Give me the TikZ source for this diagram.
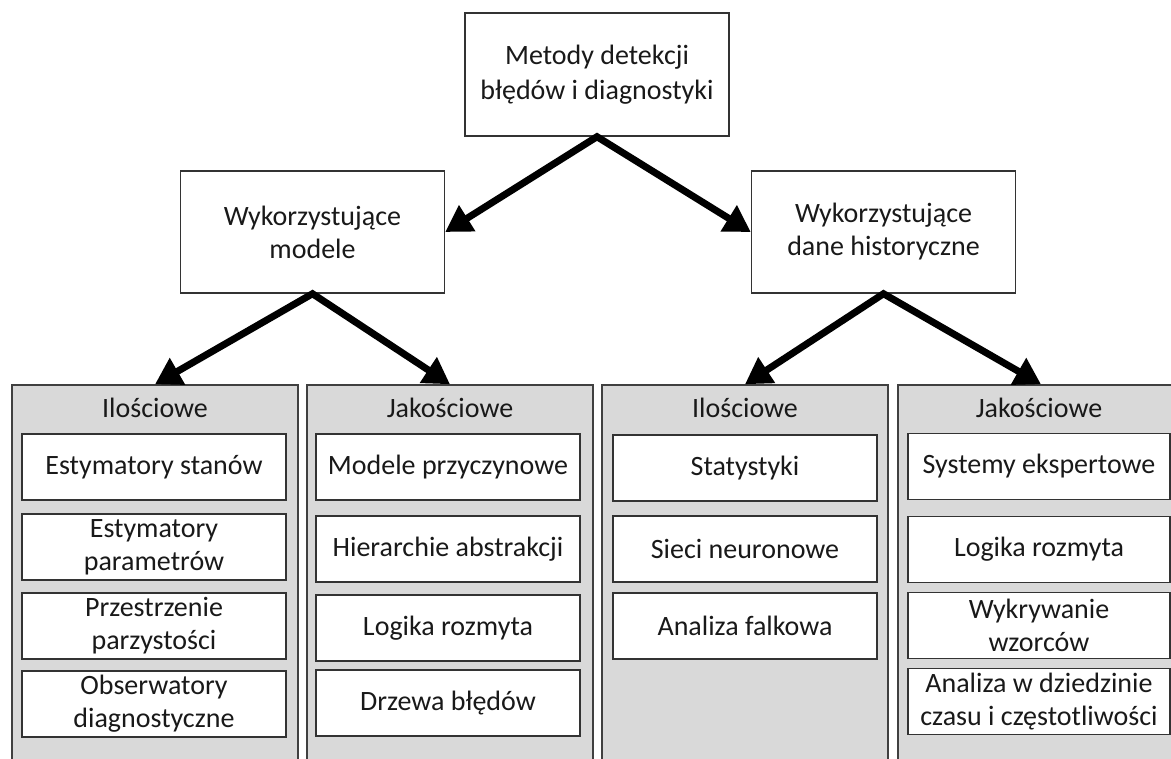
\documentclass[tikz,border=0pt]{standalone}
\usepackage{fontspec}
\setmainfont{Carlito}
\usetikzlibrary{arrows.meta}
\newdimen\px \px=0.75pt
\tikzset{
  txt/.style={font=\fontsize{21}{24.75}\selectfont, align=center, text=black!90},
  box/.style={txt, draw=black!80, line width=1.1pt, fill=white, inner sep=0pt},
  topbox/.style={box, minimum width=264\px, minimum height=123\px},
  item/.style={box, minimum width=264\px, minimum height=66\px},
  panel/.style={draw=black!75, line width=1.1pt, fill=black!15, minimum width=286\px, minimum height=400\px, inner sep=0pt},
  title/.style={txt, inner sep=0pt},
  bigarrow/.style={line width=5.25pt, -{Triangle[length=19.5pt, width=22pt]}, shorten <=-1.5pt}
}
\begin{document}
\begin{tikzpicture}[x=0.75pt, y=-0.75pt]
  \useasboundingbox (0,0) rectangle (1171,758);
  \clip (0,0) rectangle (1171,758);
  \fill[white] (0,0) rectangle (1171,758);

  % upper levels
  \node[topbox, font=\fontsize{21}{26.25}\selectfont] (root) at (597,74.5) {Metody detekcji\\błędów i diagnostyki};
  \node[topbox, minimum height=122\px] (model) at (312.5,232) {Wykorzystujące\\modele};
  \node[topbox, minimum height=122\px] (hist) at (883.5,232) {Wykorzystujące\\dane historyczne};

  % grey category panels
  \node[panel] (p1) at (155,585) {};
  \node[panel] (p2) at (450,585) {};
  \node[panel] (p3) at (745,585) {};
  \node[panel] (p4) at (1041,585) {};

  \node[title] (t1) at (155,408) {Ilościowe};
  \node[title] (t2) at (450,408) {Jakościowe};
  \node[title] (t3) at (745,408) {Ilościowe};
  \node[title] (t4) at (1039,408) {Jakościowe};

  % model-based, quantitative
  \node[item] (a1) at (154,467) {Estymatory stanów};
  \node[item] (a2) at (154,547) {Estymatory\\parametrów};
  \node[item] (a3) at (154,626) {Przestrzenie\\parzystości};
  \node[item] (a4) at (154,704) {Obserwatory\\diagnostyczne};

  % model-based, qualitative
  \node[item] (b1) at (448,467) {Modele przyczynowe};
  \node[item] (b2) at (448,549) {Hierarchie abstrakcji};
  \node[item] (b3) at (448,628) {Logika rozmyta};
  \node[item] (b4) at (448,703) {Drzewa błędów};

  % data-driven, quantitative
  \node[item] (c1) at (745,468) {Statystyki};
  \node[item] (c2) at (745,549) {Sieci neuronowe};
  \node[item] (c3) at (745,626) {Analiza falkowa};

  % data-driven, qualitative
  \node[item, minimum width=262\px] (d1) at (1039,466.5) {Systemy ekspertowe};
  \node[item, minimum width=262\px] (d2) at (1039,549.5) {Logika rozmyta};
  \node[item, minimum width=262\px] (d3) at (1039,625.5) {Wykrywanie\\wzorców};
  \node[item, minimum width=262\px] (d4) at (1039,701.5) {Analiza w dziedzinie\\czasu i częstotliwości};

  % connectors
  \draw[bigarrow] (root.south) -- (model.east);
  \draw[bigarrow] (root.south) -- (hist.west);
  \draw[bigarrow] (model.south) -- (p1.north);
  \draw[bigarrow] (model.south) -- (p2.north);
  \draw[bigarrow] (hist.south) -- (p3.north);
  \draw[bigarrow] (hist.south) -- (p4.north);
\end{tikzpicture}
\end{document}
